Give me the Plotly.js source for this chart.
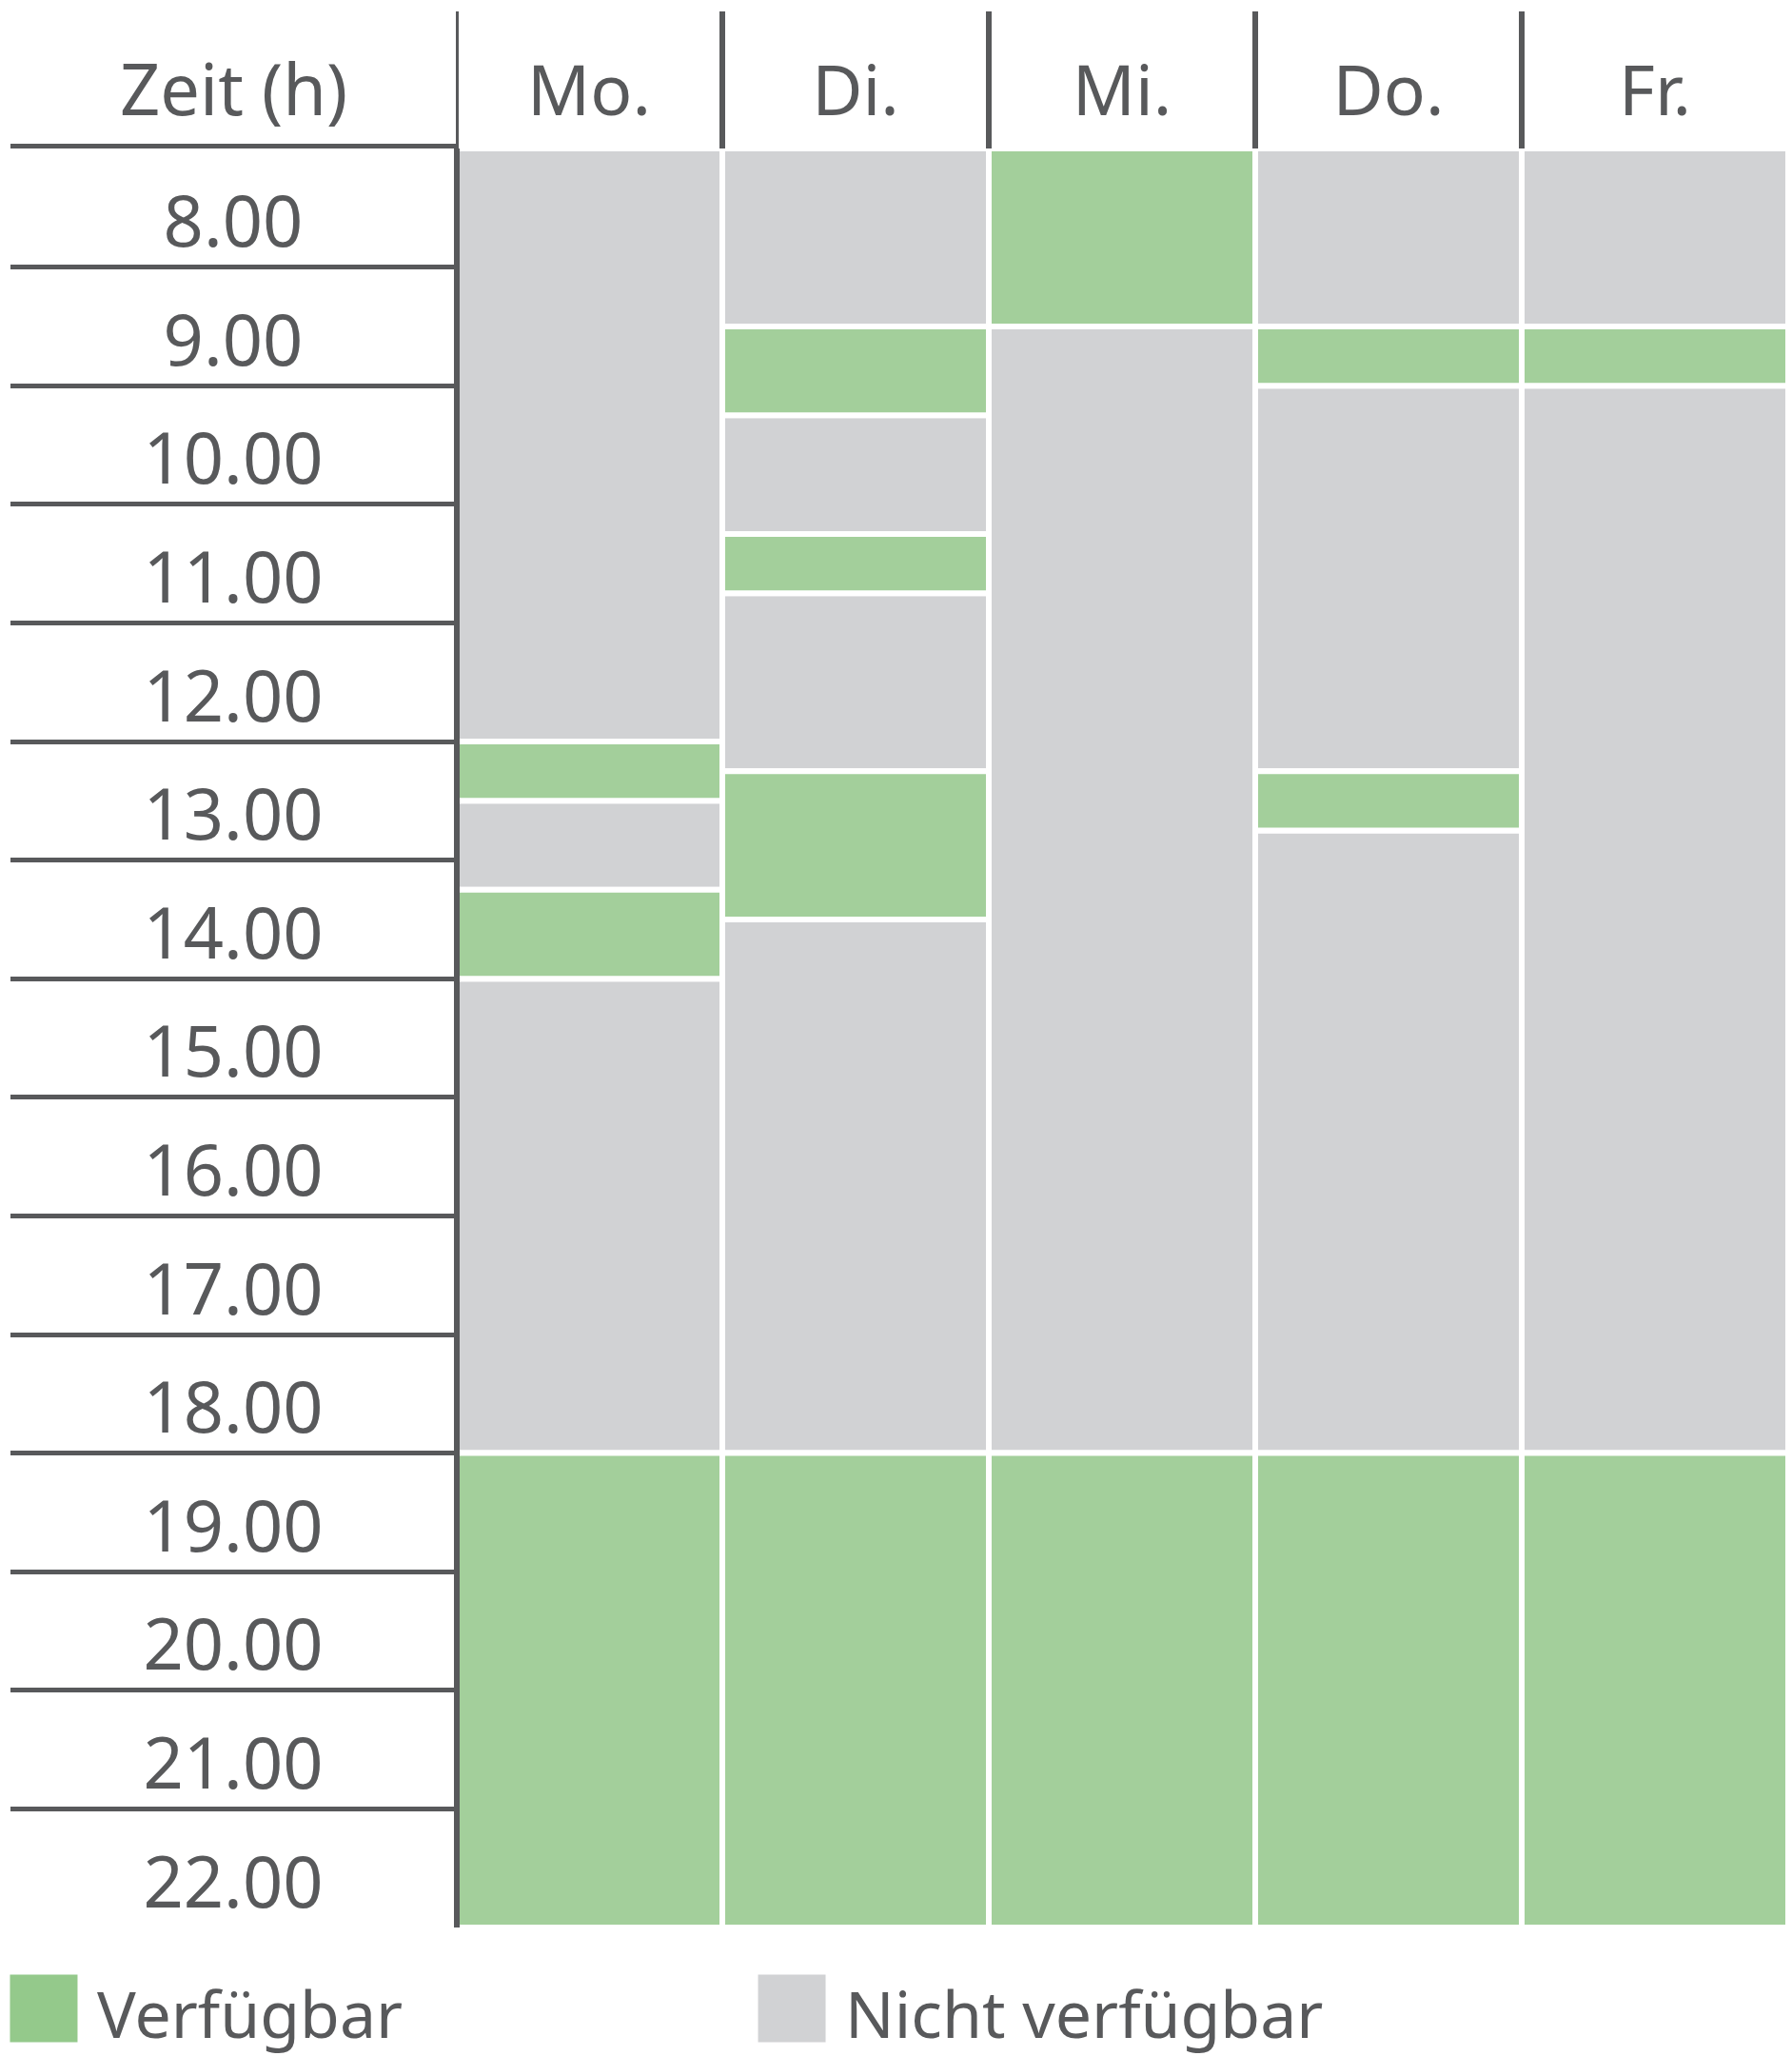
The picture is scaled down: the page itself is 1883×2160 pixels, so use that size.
<!DOCTYPE html>
<html>
<head>
<meta charset="utf-8">
<script src="https://cdn.plot.ly/plotly-3.0.1.min.js"></script>
<style>
html, body { margin: 0; padding: 0; background: #ffffff; }
#chart { width: 1883px; height: 2160px; }
</style>
</head>
<body>
<div id="chart"></div>
<script>
// ---------- data ----------
const days = ['Mo.', 'Di.', 'Mi.', 'Do.', 'Fr.'];
const hourValues = [8, 9, 10, 11, 12, 13, 14, 15, 16, 17, 18, 19, 20, 21, 22];
const hourLabels = ['8.00', '9.00', '10.00', '11.00', '12.00', '13.00', '14.00', '15.00',
                    '16.00', '17.00', '18.00', '19.00', '20.00', '21.00', '22.00'];
const dayStartHour = 8;
const dayEndHour = 23;

// available (green) periods
const availDay   = ['Mo.', 'Mo.', 'Mo.', 'Di.', 'Di.', 'Di.', 'Di.', 'Mi.', 'Mi.', 'Do.', 'Do.', 'Do.', 'Fr.', 'Fr.'];
const availStart = [13,    14.25, 19,    9.5,   11.25, 13.25, 19,    8,     19,    9.5,   13.25, 19,    9.5,   19];
const availEnd   = [13.5,  15,    23,    10.25, 11.75, 14.5,  23,    9.5,   23,    10,    13.75, 23,    10,    23];

// not available (grey) periods
const busyDay   = ['Mo.', 'Mo.', 'Mo.', 'Di.', 'Di.', 'Di.', 'Di.', 'Mi.', 'Do.', 'Do.', 'Do.', 'Fr.', 'Fr.'];
const busyStart = [8,     13.5,  15,    8,     10.25, 11.75, 14.5,  9.5,   8,     10,    13.75, 8,     10];
const busyEnd   = [13,    14.25, 19,    9.5,   11.25, 13.25, 19,    19,    9.5,   13.25, 19,    9.5,   19];

const timeHeader = 'Zeit (h)';
const legendLabels = ['Verfügbar', 'Nicht verfügbar'];

// ---------- styling ----------
const W = 1883, H = 2160;
const FONT = 'Noto Sans, Open Sans, sans-serif';
const INK = '#58595b';
const GREEN = '#a3cf9b';
const GREEN_KEY = '#94c98b';
const GRAY = '#d1d2d4';
const fx = p => p / W;
const fy = p => 1 - p / H;

const tableLeft = 11, gridLeft = 479, gridRight = 1879;
const headTop = 12, gridTop = 156, gridBottom = 2025;

// ---------- traces ----------
const busyTrace = {
  type: 'bar', name: legendLabels[1],
  x: busyDay, base: busyStart, y: busyEnd.map((e, i) => e - busyStart[i]),
  width: 1,
  marker: { color: GRAY, line: { color: '#ffffff', width: 6 } },
  xaxis: 'x', yaxis: 'y', hoverinfo: 'skip', showlegend: false
};
const availTrace = {
  type: 'bar', name: legendLabels[0],
  x: availDay, base: availStart, y: availEnd.map((e, i) => e - availStart[i]),
  width: 1,
  marker: { color: GREEN, line: { color: '#ffffff', width: 6 } },
  xaxis: 'x', yaxis: 'y', hoverinfo: 'skip', showlegend: false
};
const timeTrace = {
  type: 'scatter', mode: 'text',
  x: hourValues.map(() => 0.5),
  y: hourValues.map(h => h + 0.68),
  text: hourLabels,
  textposition: 'middle center',
  textfont: { family: FONT, size: 74, color: INK },
  xaxis: 'x2', yaxis: 'y', cliponaxis: false, hoverinfo: 'skip', showlegend: false
};
const sepX = [], sepY = [];
days.forEach((d, i) => { sepX.push(i - 0.5, i - 0.5, null); sepY.push(0, 1, null); });
const sepTrace = {
  type: 'scatter', mode: 'lines', x: sepX, y: sepY,
  line: { color: INK, width: 6 },
  xaxis: 'x3', yaxis: 'y2', hoverinfo: 'skip', showlegend: false
};
const legendSwatchTrace = {
  type: 'scatter', mode: 'markers',
  x: legendLabels, y: legendLabels.map(() => 0),
  marker: { symbol: 'square', size: 71, color: [GREEN_KEY, GRAY], line: { width: 0 } },
  xaxis: 'x4', yaxis: 'y3', cliponaxis: false, hoverinfo: 'skip', showlegend: false
};
const legendTextTrace = {
  type: 'scatter', mode: 'markers+text',
  x: legendLabels, y: legendLabels.map(() => -0.36),
  text: legendLabels, textposition: 'middle right',
  marker: { symbol: 'square', size: 88, color: 'rgba(0,0,0,0)', line: { width: 0 } },
  textfont: { family: FONT, size: 68, color: INK },
  xaxis: 'x4', yaxis: 'y3', cliponaxis: false, hoverinfo: 'skip', showlegend: false
};

// ---------- layout ----------
const layout = {
  width: W, height: H,
  margin: { l: 0, r: 0, t: 0, b: 0, pad: 0 },
  paper_bgcolor: '#ffffff', plot_bgcolor: 'rgba(0,0,0,0)',
  font: { family: FONT, color: INK },
  showlegend: false,
  barmode: 'overlay',
  xaxis: {
    domain: [fx(gridLeft), fx(gridRight)], anchor: 'y',
    type: 'category', categoryorder: 'array', categoryarray: days,
    range: [-0.5, days.length - 0.5], side: 'top',
    showgrid: false, zeroline: false, showline: false, ticks: '',
    tickfont: { family: FONT, size: 73, color: INK },
    ticklabelstandoff: 19, fixedrange: true
  },
  yaxis: {
    domain: [fy(gridBottom), fy(gridTop)], anchor: 'free', position: fx(gridLeft + 0.5),
    range: [dayEndHour, dayStartHour],
    showline: true, linewidth: 6, linecolor: INK,
    showgrid: true, gridwidth: 5, gridcolor: INK,
    tickmode: 'array', tickvals: hourValues,
    showticklabels: false, ticks: '', zeroline: false, fixedrange: true
  },
  xaxis2: {
    domain: [fx(tableLeft), fx(gridLeft)], anchor: 'y', side: 'top',
    range: [0, 1], showline: true, linewidth: 5, linecolor: INK,
    showgrid: false, zeroline: false, showticklabels: false, ticks: '', fixedrange: true
  },
  xaxis3: {
    domain: [fx(gridLeft), fx(gridRight)], anchor: 'y2',
    range: [-0.5, days.length - 0.5], visible: false, fixedrange: true
  },
  yaxis2: {
    domain: [fy(gridTop), fy(headTop)], anchor: 'x3',
    range: [0, 1], visible: false, fixedrange: true
  },
  xaxis4: {
    domain: [0, 1], anchor: 'y3', type: 'category',
    categoryorder: 'array', categoryarray: legendLabels,
    range: [-0.0585, 2.337], visible: false, fixedrange: true
  },
  yaxis3: {
    domain: [fy(2150), fy(2070)], anchor: 'x4',
    range: [-1, 1], visible: false, fixedrange: true
  },
  annotations: [{
    text: timeHeader, xref: 'x2 domain', x: 0.5, yref: 'paper', y: fy(93),
    xanchor: 'center', yanchor: 'middle', showarrow: false,
    font: { family: FONT, size: 74, color: INK }
  }]
};

Plotly.newPlot('chart', [busyTrace, availTrace, timeTrace, sepTrace, legendSwatchTrace, legendTextTrace], layout,
  { displayModeBar: false, staticPlot: true });
</script>
</body>
</html>
